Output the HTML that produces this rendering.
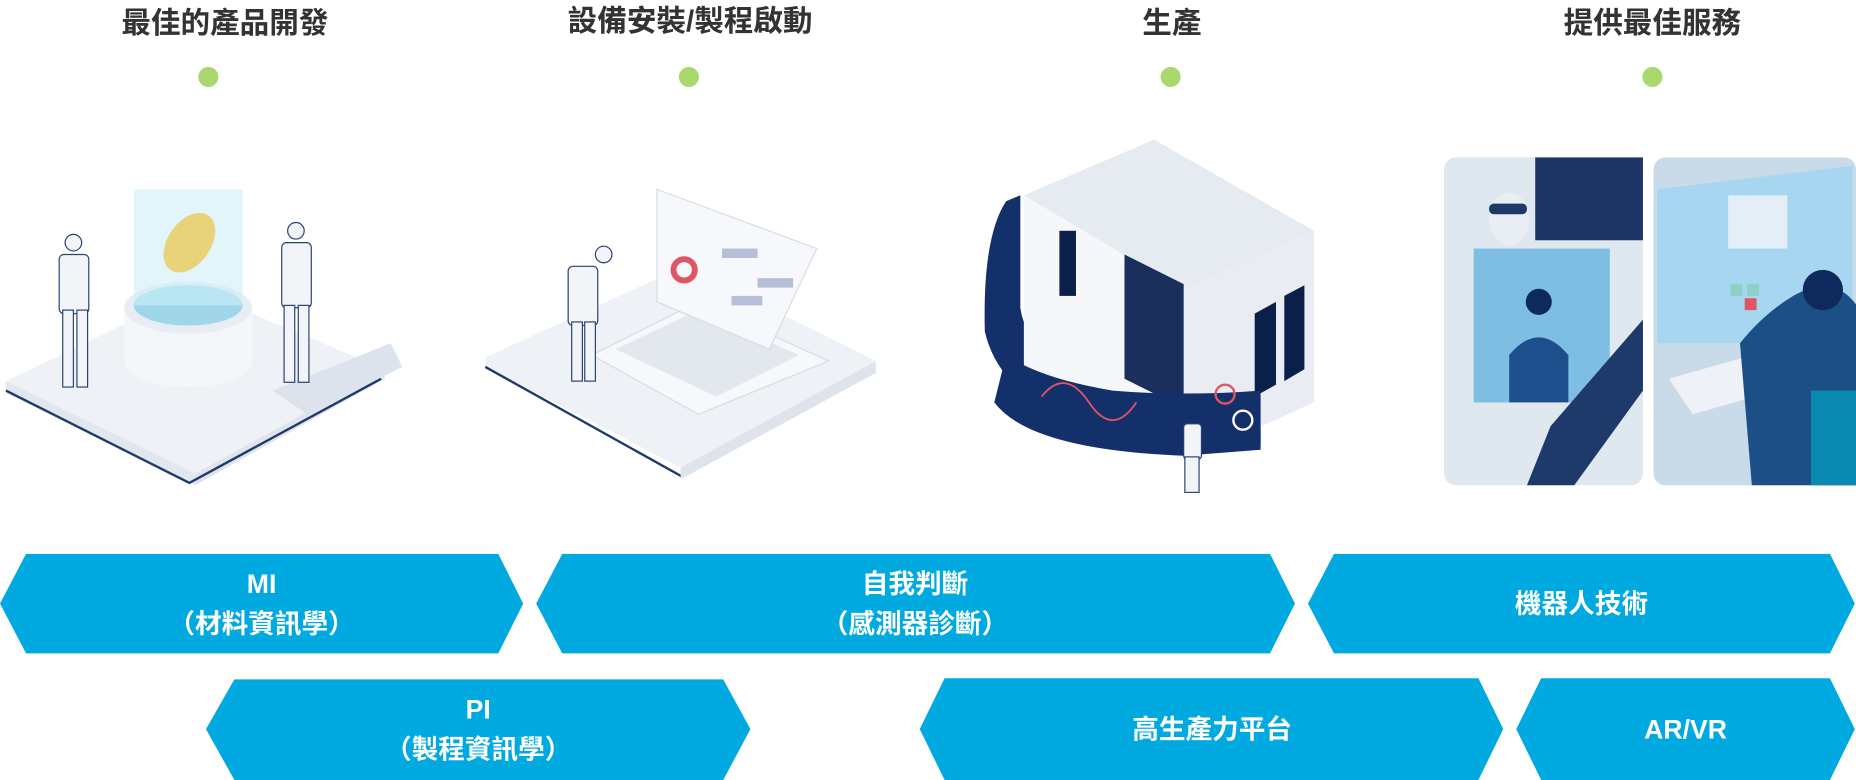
<!DOCTYPE html>
<html><head><meta charset="utf-8"><style>
html,body{margin:0;padding:0;background:#fff;width:1856px;height:780px;overflow:hidden}
svg{display:block}
text{font-family:"Liberation Sans","Noto Sans CJK TC",sans-serif;font-weight:bold}
</style></head><body>
<svg width="1856" height="780" viewBox="0 0 1568 659" xmlns="http://www.w3.org/2000/svg" preserveAspectRatio="none">
<!-- titles -->
<g fill="#333" font-size="25" text-anchor="middle">
<text x="190" y="28">最佳的產品開發</text>
<text x="583" y="26">設備安裝/製程啟動</text>
<text x="990" y="28">生產</text>
<text x="1396" y="28">提供最佳服務</text>
</g>
<g fill="#a8d86e">
<circle cx="176" cy="65" r="8.5"/><circle cx="582" cy="65" r="8.5"/><circle cx="989" cy="65" r="8.5"/><circle cx="1396" cy="65" r="8.5"/>
</g>

<!-- illustration 1 -->
<polygon points="5,322 165,245 325,312 165,400 5,330" fill="#eef1f6"/>
<polygon points="5,322 165,400 165,410 5,332" fill="#e2e7ef"/>
<polygon points="165,400 325,312 325,320 165,410" fill="#dfe4ec"/>
<polyline points="5,330 160,408 322,320" fill="none" stroke="#1d3a6b" stroke-width="2"/>
<polygon points="230,330 330,290 340,310 260,350" fill="#dde3ec"/>
<rect x="105" y="260" width="108" height="45" fill="#f4f6f9"/>
<ellipse cx="159" cy="305" rx="54" ry="22" fill="#f4f6f9"/>
<ellipse cx="159" cy="260" rx="54" ry="22" fill="#e8edf3"/>
<ellipse cx="159" cy="258" rx="46" ry="17" fill="#9fd6ea"/>
<rect x="113" y="160" width="92" height="98" fill="#cdeef7" opacity="0.6"/>
<ellipse cx="160" cy="205" rx="18" ry="28" transform="rotate(35 160 205)" fill="#e8d27a"/>
<g fill="#f2f4f8" stroke="#2a4272" stroke-width="1">
<rect x="50" y="215" width="25" height="50" rx="4"/><rect x="53" y="262" width="9" height="65"/><rect x="65" y="262" width="9" height="65"/><circle cx="62" cy="205" r="7"/>
<rect x="238" y="205" width="25" height="55" rx="4"/><rect x="240" y="258" width="9" height="65"/><rect x="252" y="258" width="9" height="65"/><circle cx="250" cy="195" r="7"/>
</g>

<!-- illustration 2 -->
<polygon points="410,302 578,225 740,305 575,395 410,310" fill="#eef1f6"/>
<polyline points="410,310 575,402 738,312" fill="none" stroke="#1d3a6b" stroke-width="2"/>
<polygon points="575,395 740,305 740,315 575,405" fill="#dfe4ec"/>
<polygon points="500,300 590,255 700,305 590,350" fill="#f7f8fb" stroke="#d6dce6"/>
<polygon points="520,295 590,262 675,300 605,335" fill="#e3e8ef"/>
<polygon points="555,160 690,210 650,295 555,255" fill="#f7f8fb" stroke="#d6dce6"/>
<circle cx="578" cy="228" r="9" fill="none" stroke="#e05563" stroke-width="5"/>
<g fill="#b7bfd8"><rect x="610" y="210" width="30" height="8"/><rect x="640" y="235" width="30" height="8"/><rect x="618" y="250" width="26" height="8"/></g>
<g fill="#f2f4f8" stroke="#2a4272"><rect x="480" y="225" width="25" height="50" rx="4"/><rect x="483" y="272" width="9" height="50"/><rect x="494" y="272" width="9" height="50"/><circle cx="510" cy="215" r="7"/></g>

<!-- illustration 3 -->
<path d="M850,170 Q830,200 832,280 Q850,360 1000,380 L1065,375 L1065,320 L1000,330 Q870,320 862,260 L862,165 Z" fill="#14306a"/>
<polygon points="865,165 975,118 1110,195 1110,340 1000,390 865,320" fill="#f5f7fa"/>
<polygon points="865,165 975,118 1110,195 1000,245" fill="#e6ebf2"/>
<polygon points="1000,245 1110,195 1110,340 1000,390" fill="#e9edf3"/>
<polygon points="950,215 1000,240 1000,345 950,320" fill="#1b2f5c"/>
<g fill="#0b1f4b"><rect x="895" y="195" width="14" height="55"/><polygon points="1060,265 1078,255 1078,325 1060,335"/><polygon points="1085,250 1102,241 1102,312 1085,322"/></g>
<path d="M840,340 Q870,380 1000,385 L1065,380 L1065,330 Q1000,335 940,330 Q880,320 850,300 Z" fill="#14306a"/>
<path d="M880,335 q20,-25 40,5 t40,0" fill="none" stroke="#e05563" stroke-width="1.5"/>
<circle cx="1050" cy="355" r="8" fill="none" stroke="#fff" stroke-width="2"/>
<circle cx="1035" cy="333" r="8" fill="none" stroke="#e05563" stroke-width="2"/>
<g fill="#f2f4f8" stroke="#2a4272"><rect x="1000" y="358" width="15" height="30" rx="3"/><rect x="1001" y="386" width="12" height="30"/></g>

<!-- illustration 4 -->
<rect x="1220" y="133" width="168" height="277" rx="10" fill="#dfe7ef"/>
<rect x="1297" y="133" width="91" height="70" fill="#1f3565"/>
<rect x="1245" y="210" width="115" height="130" fill="#6db6e0" opacity="0.85"/>
<circle cx="1300" cy="255" r="11" fill="#0e2a5c"/>
<path d="M1275,300 q25,-30 50,0 l0,40 l-50,0 z" fill="#1c4f8c"/>
<path d="M1310,360 L1388,270 L1388,330 L1330,410 L1290,410 Z" fill="#1d3a6b"/>
<ellipse cx="1275" cy="185" rx="17" ry="22" fill="#e9eef4"/>
<rect x="1258" y="172" width="32" height="9" rx="4" fill="#1d3a6b"/>
<rect x="1397" y="133" width="171" height="277" rx="10" fill="#c9dbe8"/>
<polygon points="1400,160 1565,140 1565,290 1400,290" fill="#a7d6f0"/>
<rect x="1460" y="165" width="50" height="45" fill="#e3eef6"/>
<g fill="#8fd0c5"><rect x="1462" y="240" width="10" height="10"/><rect x="1476" y="240" width="10" height="10"/></g>
<rect x="1474" y="252" width="10" height="10" fill="#e05563"/>
<polygon points="1410,320 1480,300 1500,330 1430,350" fill="#eef2f6"/>
<path d="M1470,290 q20,-25 45,-40 q35,-20 55,10 L1568,410 L1480,410 Z" fill="#1b4f86"/>
<circle cx="1540" cy="245" r="17" fill="#0e2a5c"/>
<rect x="1530" y="330" width="38" height="80" fill="#0a8ab0"/>

<!-- hexagons -->
<g fill="#00a9e0">
<polygon points="0,510 22,468 421,468 442,510 421,552 22,552"/>
<polygon points="453,510 475,468 1073,468 1094,510 1073,552 475,552"/>
<polygon points="1105,510 1127,468 1546,468 1567,510 1546,552 1127,552"/>
<polygon points="174,616 198,574 611,574 634,616 611,659 198,659"/>
<polygon points="777,616 798,573 1249,573 1270,616 1249,659 798,659"/>
<polygon points="1281,616 1302,573 1546,573 1567,616 1546,659 1302,659"/>
</g>
<g fill="#fff" font-size="22.5" text-anchor="middle">
<text x="221" y="501">MI</text>
<text x="221" y="535">（材料資訊學）</text>
<text x="773" y="501">自我判斷</text>
<text x="773" y="535">（感測器診斷）</text>
<text x="1336" y="518">機器人技術</text>
<text x="404" y="607">PI</text>
<text x="404" y="641">（製程資訊學）</text>
<text x="1024" y="624">高生產力平台</text>
<text x="1424" y="624">AR/VR</text>
</g>
</svg>
</body></html>
